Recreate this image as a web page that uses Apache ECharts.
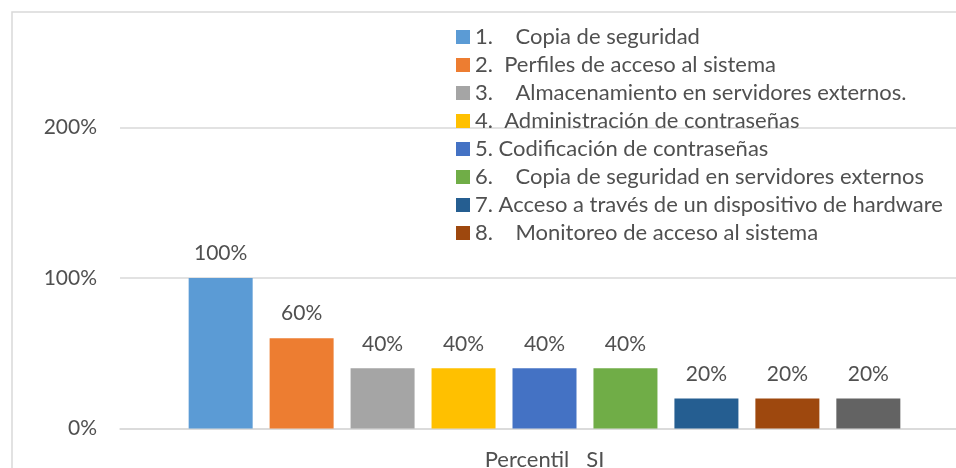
<!DOCTYPE html>
<html>
<head>
<meta charset="utf-8">
<script src="https://cdn.jsdelivr.net/npm/echarts@6/dist/echarts.min.js"></script>
<style>
  html, body { margin: 0; padding: 0; background: #fff; }
  #chart_view { width: 956px; height: 468px; }
</style>
</head>
<body>
<div id="chart_view"></div>
<script type="text/javascript">
  var categories = ['Percentil   SI'];
  var seriesNames = [
    '1.    Copia de seguridad',
    '2.  Perfiles de acceso al sistema',
    '3.    Almacenamiento en servidores externos.',
    '4.  Administración de contraseñas',
    '5. Codificación de contraseñas',
    '6.    Copia de seguridad en servidores externos',
    '7. Acceso a través de un dispositivo de hardware',
    '8.    Monitoreo de acceso al sistema',
    '9.'
  ];
  var seriesValues = [100, 60, 40, 40, 40, 40, 20, 20, 20];
  var legendNames = seriesNames.slice(0, 8);
  var yTicks = [0, 100, 200];
  var colors = ['#5b9bd5', '#ed7d31', '#a5a5a5', '#ffc000', '#4472c4', '#70ad47', '#255e91', '#9e480e', '#636363'];

  var font = 'Lato';
  var txt = '#505050';

  var series = [];
  for (var i = 0; i < seriesNames.length; i++) {
    series.push({
      name: seriesNames[i],
      type: 'bar',
      barWidth: 64,
      barGap: '26.5%',
      data: [seriesValues[i]],
      itemStyle: { color: colors[i] },
      label: {
        show: true,
        position: 'top',
        distance: 14,
        formatter: '{c}%',
        color: txt,
        fontFamily: font,
        fontSize: 21
      }
    });
  }

  var myChart = echarts.init(document.getElementById('chart_view'));
  var option = {
    animation: false,
    color: colors,
    graphic: [{
      type: 'rect',
      shape: { x: 12, y: 12, width: 980, height: 500 },
      style: { fill: 'none', stroke: '#d9d9d9', lineWidth: 1.5 },
      z: -1
    }],
    legend: {
      data: legendNames,
      orient: 'vertical',
      left: 451,
      top: 21,
      itemWidth: 14,
      itemHeight: 14,
      itemGap: 6,
      icon: 'rect',
      textStyle: { color: txt, fontFamily: font, fontSize: 22 }
    },
    grid: {
      left: 120,
      top: 127.5,
      width: 849,
      bottom: 39.5,
      outerBoundsMode: 'none',
      containLabel: false
    },
    xAxis: {
      type: 'category',
      data: categories,
      axisLine: { lineStyle: { color: '#d9d9d9', width: 1.5 } },
      axisTick: { show: false },
      axisLabel: { color: txt, fontFamily: font, fontSize: 22, margin: 20 }
    },
    yAxis: {
      type: 'value',
      min: yTicks[0],
      max: yTicks[yTicks.length - 1],
      interval: 100,
      axisLine: { show: false },
      axisTick: { show: false },
      splitLine: { lineStyle: { color: '#d9d9d9', width: 1.5 } },
      axisLabel: { color: txt, fontFamily: font, fontSize: 21, margin: 23, formatter: '{value}%' }
    },
    series: series
  };
  myChart.setOption(option);
</script>
</body>
</html>
